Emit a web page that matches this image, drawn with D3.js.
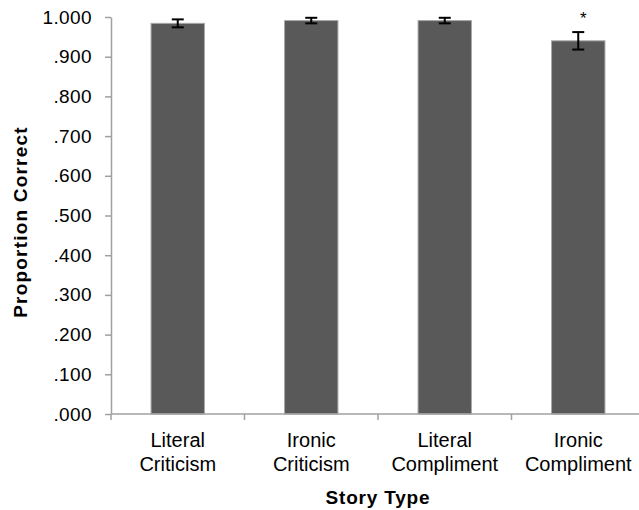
<!DOCTYPE html>
<html>
<head>
<meta charset="utf-8">
<script src="https://cdn.jsdelivr.net/npm/d3@7"></script>
<style>
  body { margin: 0; background: #fff; }
  text { font-family: "Liberation Sans", Arial, sans-serif; fill: #000; }
</style>
</head>
<body>
<svg id="chart" width="639" height="510"></svg>
<script>
// story types, two-line labels
const categories = ["Literal Criticism", "Ironic Criticism", "Literal Compliment", "Ironic Compliment"];
const labelLines = [["Literal", "Criticism"], ["Ironic", "Criticism"], ["Literal", "Compliment"], ["Ironic", "Compliment"]];
const proportions = [0.984, 0.991, 0.991, 0.940];
const errors = [0.010, 0.007, 0.007, 0.022];
const significant = [false, false, false, true];
const yTicks = [0, 0.1, 0.2, 0.3, 0.4, 0.5, 0.6, 0.7, 0.8, 0.9, 1.0];

const svg = d3.select("#chart");
const plotLeft = 111, plotRight = 645, plotTop = 17, plotBottom = 414;

const x = d3.scaleBand()
    .domain(categories)
    .range([plotLeft, plotRight])
    .paddingInner(0.6)
    .paddingOuter(0.3);

const y = d3.scaleLinear()
    .domain([0, 1])
    .range([plotBottom, plotTop]);

const fmt = v => v === 1 ? "1.000" : d3.format(".3f")(v).replace(/^0/, "");

// bars
svg.selectAll("rect.bar")
    .data(categories)
    .enter().append("rect")
    .attr("class", "bar")
    .attr("x", d => x(d))
    .attr("y", (d, i) => y(proportions[i]))
    .attr("width", x.bandwidth())
    .attr("height", (d, i) => y(0) - y(proportions[i]))
    .attr("fill", "#595959")
    .attr("stroke", "#a8a8a8")
    .attr("stroke-width", 1);

// y axis
const yAxis = svg.append("g")
    .attr("transform", `translate(${plotLeft},0)`)
    .call(d3.axisLeft(y).tickValues(yTicks).tickFormat(fmt).tickSize(6).tickSizeOuter(0).tickPadding(13));
yAxis.select(".domain").attr("stroke", "#a0a0a0").attr("stroke-width", 1.5);
yAxis.selectAll(".tick line").attr("stroke", "#a0a0a0").attr("stroke-width", 1.5);
yAxis.selectAll(".tick text")
    .style("font-size", "19px")
    .style("letter-spacing", "0.4px")
    .attr("fill", "#000");

// x axis: baseline + ticks at category boundaries
const bounds = d3.range(categories.length + 1).map(i => plotLeft + i * x.step());
svg.append("line")
    .attr("x1", plotLeft).attr("x2", plotRight)
    .attr("y1", y(0)).attr("y2", y(0))
    .attr("stroke", "#a0a0a0").attr("stroke-width", 1.5);
svg.selectAll("line.xtick")
    .data(bounds)
    .enter().append("line")
    .attr("class", "xtick")
    .attr("x1", d => d).attr("x2", d => d)
    .attr("y1", y(0)).attr("y2", y(0) + 6)
    .attr("stroke", "#a0a0a0").attr("stroke-width", 1.5);

// category labels
const cat = svg.selectAll("text.cat")
    .data(categories)
    .enter().append("text")
    .attr("class", "cat")
    .attr("text-anchor", "middle")
    .style("font-size", "20px");
cat.each(function(d, i) {
    const cx = x(d) + x.bandwidth() / 2;
    d3.select(this).selectAll("tspan")
        .data(labelLines[i])
        .enter().append("tspan")
        .attr("x", cx)
        .attr("y", (t, j) => 447 + j * 24)
        .text(t => t);
});

// error bars
const capW = 6;
categories.forEach((d, i) => {
    const cx = x(d) + x.bandwidth() / 2;
    const hi = y(proportions[i] + errors[i]);
    const lo = y(proportions[i] - errors[i]);
    const g = svg.append("g").attr("stroke", "#000").attr("stroke-width", 2);
    g.append("line").attr("x1", cx).attr("x2", cx).attr("y1", hi).attr("y2", lo);
    g.append("line").attr("x1", cx - capW).attr("x2", cx + capW).attr("y1", hi).attr("y2", hi);
    g.append("line").attr("x1", cx - capW).attr("x2", cx + capW).attr("y1", lo).attr("y2", lo);
    if (significant[i]) {
        svg.append("text")
            .attr("x", cx + 5)
            .attr("y", hi - 8)
            .attr("text-anchor", "middle")
            .style("font-size", "17px")
            .attr("fill", "#444")
            .text("*");
    }
});

// axis titles
svg.append("text")
    .attr("x", 378)
    .attr("y", 504)
    .attr("text-anchor", "middle")
    .style("font-size", "19px")
    .style("font-weight", "bold")
    .style("letter-spacing", "0.8px")
    .text("Story Type");

svg.append("text")
    .attr("transform", "translate(27,222) rotate(-90)")
    .attr("text-anchor", "middle")
    .style("font-size", "19px")
    .style("font-weight", "bold")
    .style("letter-spacing", "1.2px")
    .text("Proportion Correct");
</script>
</body>
</html>
